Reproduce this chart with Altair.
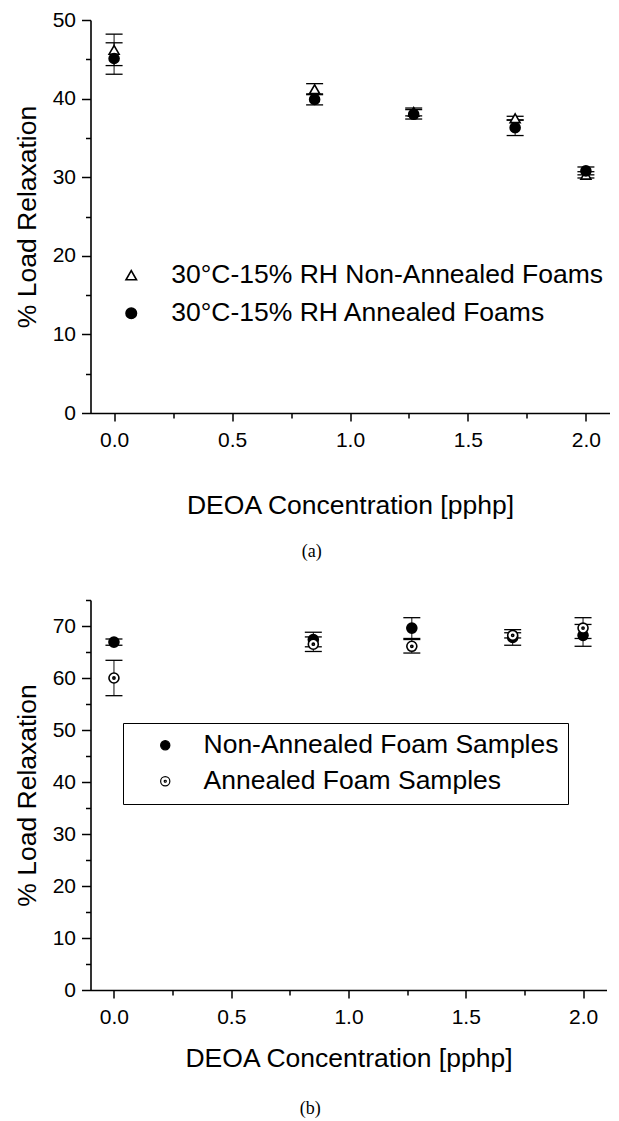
import altair as alt
import pandas as pd

# ---------------- data ----------------
x_vals = [0.0, 0.85, 1.27, 1.70, 2.0]

a_series = ["30°C-15% RH Non-Annealed Foams", "30°C-15% RH Annealed Foams"]
a_nonann = [46.2, 41.2, 38.3, 37.5, 30.3]
a_nonann_err = [2.0, 0.7, 0.5, 0.25, 0.4]
a_ann = [45.1, 39.9, 38.0, 36.3, 30.8]
a_ann_err = [2.0, 0.7, 0.6, 1.0, 0.5]

b_series = ["Non-Annealed Foam Samples", "Annealed Foam Samples"]
b_nonann = [66.9, 67.4, 69.6, 67.8, 68.2]
b_nonann_err = [0.6, 1.4, 2.0, 1.5, 2.1]
b_ann = [60.0, 66.5, 66.1, 68.2, 69.6]
b_ann_err = [3.4, 1.4, 1.3, 0.5, 2.0]

x_major = [0.0, 0.5, 1.0, 1.5, 2.0]
x_minor = [0.25, 0.75, 1.25, 1.75]
a_y_major = [0, 10, 20, 30, 40, 50]
a_y_minor = [5, 15, 25, 35, 45]
b_y_major = [0, 10, 20, 30, 40, 50, 60, 70]
b_y_minor = [5, 15, 25, 35, 45, 55, 65, 75]

x_title = "DEOA Concentration [pphp]"
y_title = "% Load Relaxation"

SANS = "Liberation Sans"
SERIF = "Liberation Serif"
OPEN_DOT = ("M-1,0A1,1 0 1,0 1,0A1,1 0 1,0 -1,0Z"
            "M-0.22,0A0.22,0.22 0 1,0 0.22,0A0.22,0.22 0 1,0 -0.22,0Z")


def make_df(series, vals_list, errs_list):
    rows = []
    for s, vals, errs in zip(series, vals_list, errs_list):
        for x, v, e in zip(x_vals, vals, errs):
            rows.append({"x": x, "value": v, "lo": v - e, "hi": v + e, "series": s})
    return pd.DataFrame(rows)


def panel(df, series, shapes, fills, ydom, ymaj, ymin, width, height,
          xtitle_pad, caption, cap_offset, legend):
    xs = alt.Scale(domain=[-0.1, 2.1], nice=False, zero=False)
    ys = alt.Scale(domain=ydom, nice=False, zero=False)
    ax_x_major = alt.Axis(values=x_major, format=".1f", orient="bottom",
                          title=x_title, titlePadding=xtitle_pad, tickSize=8,
                          labelPadding=8, grid=False)
    ax_x_minor = alt.Axis(values=x_minor, orient="bottom", labels=False,
                          domain=False, tickSize=5, grid=False, title=None)
    ax_y_major = alt.Axis(values=ymaj, format="d", orient="left", title=y_title,
                          titlePadding=11, tickSize=9, labelPadding=6, grid=False)
    ax_y_minor = alt.Axis(values=ymin, orient="left", labels=False, domain=False,
                          tickSize=5, grid=False, title=None)

    base = alt.Chart(df)
    rules = base.mark_rule(color="#111111", strokeWidth=1).encode(
        x=alt.X("x:Q", scale=xs, axis=ax_x_major),
        y=alt.Y("lo:Q", scale=ys, axis=ax_y_major),
        y2="hi:Q",
    )
    cap_lo = base.mark_tick(orient="horizontal", size=17, thickness=1.3,
                            color="black", opacity=1).encode(
        x=alt.X("x:Q", scale=xs, axis=ax_x_minor),
        y=alt.Y("lo:Q", scale=ys, axis=ax_y_minor),
    )
    cap_hi = base.mark_tick(orient="horizontal", size=17, thickness=1.3,
                            color="black", opacity=1).encode(
        x=alt.X("x:Q", scale=xs, axis=None),
        y=alt.Y("hi:Q", scale=ys, axis=None),
    )
    pts = base.mark_point(size=100, strokeWidth=1.6, opacity=1).encode(
        x=alt.X("x:Q", scale=xs, axis=None),
        y=alt.Y("value:Q", scale=ys, axis=None),
        shape=alt.Shape("series:N", scale=alt.Scale(domain=series, range=shapes),
                        legend=legend),
        fill=alt.Fill("series:N", scale=alt.Scale(domain=series, range=fills),
                      legend=legend),
        stroke=alt.Stroke("series:N",
                          scale=alt.Scale(domain=series, range=["black", "black"]),
                          legend=legend),
    )
    return alt.layer(rules, cap_lo, cap_hi, pts).resolve_axis(
        x="independent", y="independent"
    ).properties(
        width=width, height=height,
        title=alt.TitleParams(caption, orient="bottom", anchor="middle",
                              frame="bounds",
                              font=SERIF, fontSize=18, fontWeight="normal",
                              color="black", offset=cap_offset),
    )


df_a = make_df(a_series, [a_nonann, a_ann], [a_nonann_err, a_ann_err])
df_b = make_df(b_series, [b_nonann, b_ann], [b_nonann_err, b_ann_err])

legend_a = alt.Legend(title=None, orient="none", legendX=27.5, legendY=242,
                      padding=0,
                      symbolSize=110, symbolStrokeColor="black",
                      symbolStrokeWidth=1.6, labelFont=SANS, labelFontSize=26.5,
                      labelColor="black", labelOffset=26.7, rowPadding=11,
                      labelLimit=600)
legend_b = alt.Legend(title=None, orient="none", legendX=32.5, legendY=123,
                      padding=9,
                      symbolSize=85, symbolStrokeColor="black",
                      symbolStrokeWidth=1.2, symbolOffset=20,
                      labelFont=SANS, labelFontSize=26.5, labelColor="black",
                      labelOffset=25, rowPadding=9, labelLimit=700,
                      strokeColor="black")

pa = panel(df_a, a_series, ["triangle-up", "circle"], ["white", "black"],
           [0, 50], a_y_major, a_y_minor, 519, 393, 42, "(a)", 24, legend_a)
pb = panel(df_b, b_series, ["circle", OPEN_DOT], ["black", "white"],
           [0, 75], b_y_major, b_y_minor, 516, 390, 18, "(b)", 28, legend_b)

chart = alt.vconcat(pa, pb, spacing=187, bounds="flush").resolve_scale(
    x="independent", y="independent", shape="independent", fill="independent",
    stroke="independent"
).resolve_legend(shape="independent", fill="independent",
                 stroke="independent").properties(
    padding={"left": 13.5, "top": 9, "right": 2, "bottom": 4},
    background="white",
).configure_view(strokeWidth=0).configure_axis(
    labelFont=SANS, labelFontSize=21, labelColor="black",
    titleFont=SANS, titleFontSize=26.5, titleFontWeight="normal",
    titleColor="black", domainColor="black", domainWidth=1.6,
    tickColor="black", tickWidth=1.5,
)

chart.save("out.html", embed_options={"renderer": "svg", "actions": False})
